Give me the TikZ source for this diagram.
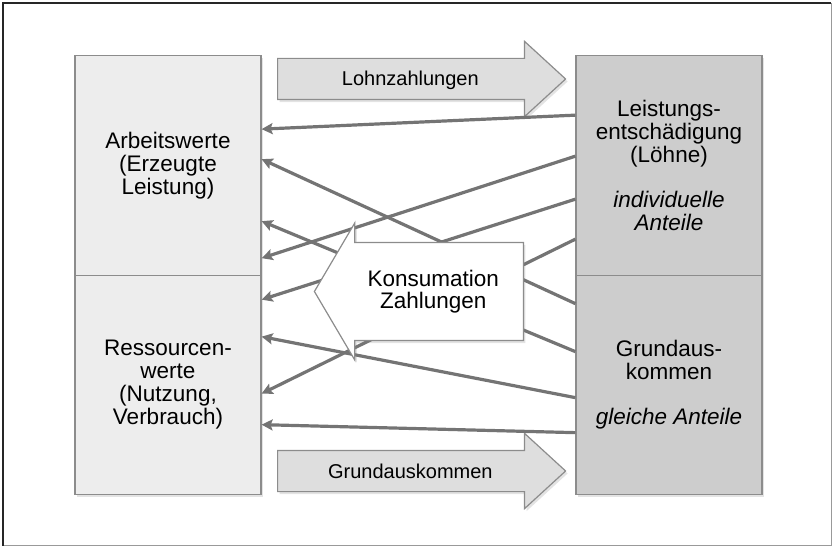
\documentclass[tikz,border=0pt]{standalone}
\usepackage{fontspec}
\setmainfont{Liberation Sans}
\usetikzlibrary{shapes.arrows,shadows,arrows.meta}
\definecolor{lightbox}{HTML}{EDEDED}
\definecolor{darkbox}{HTML}{CDCDCD}
\definecolor{arrowfill}{HTML}{DEDEDE}
\definecolor{edgegray}{HTML}{8C8C8C}
\definecolor{flowgray}{HTML}{747474}
\begin{document}
\begin{tikzpicture}[x=1pt, y=1pt,
    softshadow/.style={drop shadow={shadow xshift=2pt, shadow yshift=-2.5pt, opacity=0.22}},
    box/.style={rectangle, draw=edgegray, line width=1.2pt, minimum width=186pt, minimum height=219.5pt, inner sep=0pt, align=center, font=\fontsize{22.5}{23}\selectfont, softshadow},
    flowarrow/.style={single arrow, draw=edgegray, fill=arrowfill, line width=1.2pt, minimum height=288pt, single arrow head extend=17pt, single arrow tip angle=85, inner xsep=0pt, inner ysep=0pt, text height=27pt, text depth=13pt, font=\fontsize{20}{22}\selectfont, anchor=tail, softshadow},
    konsumarrow/.style={single arrow, shape border rotate=180, draw=edgegray, fill=white, line width=1.2pt, minimum height=209pt, single arrow head extend=19.5pt, single arrow tip angle=119, inner xsep=0pt, inner ysep=27pt, align=center, font=\fontsize{22.5}{22}\selectfont, anchor=tail, softshadow},
    payline/.style={draw=flowgray, line width=3.2pt, -{Stealth[length=11pt, width=11pt, inset=2pt]}}]
    \useasboundingbox (0,0) rectangle (832,547);
    % outer frame
    \draw[line width=1pt, black!40] (3,1.3) -- (831,1.3) -- (831,544);
    \draw[line width=1.5pt, black!85] (3,1.3) -- (3,544) -- (831,544);

    % payments to the right
    \node[flowarrow] (lohn) at (277,468) {Lohnzahlungen};
    \node[flowarrow] (grundzahl) at (277,76) {Grundauskommen};

    % value boxes
    \node[box, fill=lightbox] (arbeit) at (168,381.5) {Arbeitswerte\\(Erzeugte\\Leistung)};
    \node[box, fill=lightbox] (ressource) at (168,162) {Ressourcen-\\werte\\(Nutzung,\\Verbrauch)};
    \node[box, fill=darkbox] (leistung) at (669,381.5) {Leistungs-\\entschädigung\\(Löhne)\\[22pt]\textit{individuelle}\\\textit{Anteile}};
    \node[box, fill=darkbox] (grundeink) at (669,162) {Grundaus-\\kommen\\[22pt]\textit{gleiche Anteile}};

    % consumption flows
    \draw[payline] ([yshift=-60pt]leistung.north west) -- ([yshift=-74pt]arbeit.north east);
    \draw[payline] ([yshift=-101pt]leistung.north west) -- ([yshift=-203pt]arbeit.north east);
    \draw[payline] ([yshift=-144pt]leistung.north west) -- ([yshift=-25pt]ressource.north east);
    \draw[payline] ([yshift=-184pt]leistung.north west) -- ([yshift=-119pt]ressource.north east);
    \draw[payline] ([yshift=-29pt]grundeink.north west) -- ([yshift=-104pt]arbeit.north east);
    \draw[payline] ([yshift=-77pt]grundeink.north west) -- ([yshift=-166pt]arbeit.north east);
    \draw[payline] ([yshift=-123pt]grundeink.north west) -- ([yshift=-62pt]ressource.north east);
    \draw[payline] ([yshift=-158pt]grundeink.north west) -- ([yshift=-150pt]ressource.north east);

    \node[konsumarrow] (konsum) at (524,255.5) {Konsumation\\Zahlungen};
\end{tikzpicture}
\end{document}
